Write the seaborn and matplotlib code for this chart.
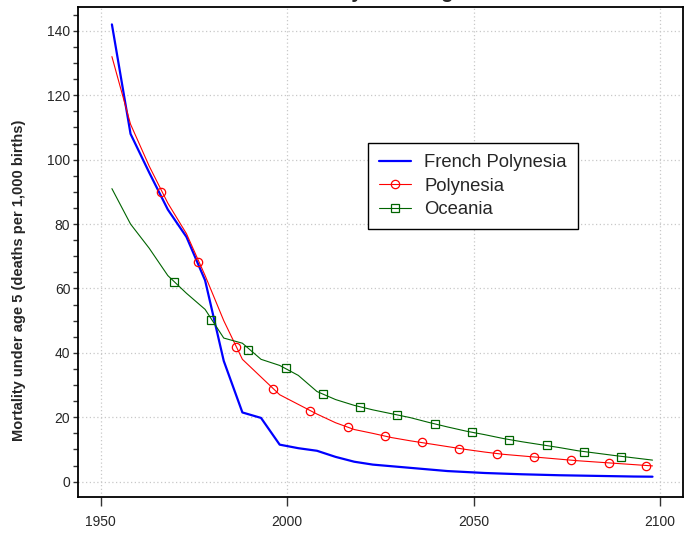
import numpy as np
import pandas as pd
import seaborn as sns
import matplotlib.pyplot as plt
from matplotlib.lines import Line2D
from matplotlib.ticker import MultipleLocator

# 5-year period midpoints
years = list(range(1953, 2099, 5))

# under-5 mortality (deaths per 1,000 births)
french_polynesia = [142, 108, 96, 84.5, 76, 62.5, 37.5, 21.5, 19.8, 11.5,
                    10.4, 9.6, 7.7, 6.2, 5.3, 4.8, 4.3, 3.8, 3.3, 3.0,
                    2.7, 2.5, 2.3, 2.15, 2.0, 1.9, 1.8, 1.7, 1.6, 1.55]
polynesia = [132, 111, 98, 86.5, 77, 64, 50, 38, 32.5, 27,
             24, 21, 18.3, 16.2, 15, 13.7, 12.7, 11.8, 10.9, 10.0,
             9.2, 8.5, 8.0, 7.5, 7.0, 6.5, 6.1, 5.7, 5.3, 4.9]
oceania = [91, 80, 72.5, 64, 58.5, 53.5, 44.6, 43, 38, 36.1,
           33.0, 28, 25.5, 23.7, 22.3, 21.1, 19.9, 18.4, 17.0, 15.7,
           14.6, 13.4, 12.4, 11.5, 10.6, 9.6, 8.85, 8.1, 7.4, 6.7]

# marker positions as drawn on the reference
polynesia_mk_years = [1966.2, 1976.2, 1986.2, 1996.2, 2006.2, 2016.2, 2026.2,
                      2036.2, 2046.2, 2056.2, 2066.2, 2076.2, 2086.2, 2096.2]
polynesia_mk = [90.0, 68.2, 41.9, 28.8, 22.1, 17.0, 14.1,
                12.2, 10.25, 8.7, 7.7, 6.6, 5.8, 4.97]
oceania_mk_years = [1969.6, 1979.6, 1989.6, 1999.6, 2009.6, 2019.6, 2029.6,
                    2039.6, 2049.6, 2059.6, 2069.6, 2079.6, 2089.6]
oceania_mk = [61.9, 50.3, 41.0, 35.4, 27.3, 23.3, 20.8,
              17.9, 15.3, 13.0, 11.3, 9.3, 7.8]

labels = ['French Polynesia', 'Polynesia', 'Oceania']
colors = ['#0000ff', '#ff0000', '#006400']

sns.set_style('white')
plt.rcParams['font.family'] = ['Liberation Sans', 'DejaVu Sans']

fig = plt.figure(figsize=(6.95, 5.35), dpi=100)
ax = fig.add_axes([0.1122, 0.0716, 0.8701, 0.9153])

# lines
sns.lineplot(x=years, y=french_polynesia, color=colors[0], linewidth=1.6, ax=ax, legend=False)
sns.lineplot(x=years, y=polynesia, color=colors[1], linewidth=0.8, ax=ax, legend=False)
sns.lineplot(x=years, y=oceania, color=colors[2], linewidth=0.8, ax=ax, legend=False)

# open markers
ax.plot(polynesia_mk_years, polynesia_mk, linestyle='none', marker='o', ms=6,
        mfc='none', mec=colors[1], mew=0.9)
ax.plot(oceania_mk_years, oceania_mk, linestyle='none', marker='s', ms=5.5,
        mfc='none', mec=colors[2], mew=0.9)

ax.set_xlim(1943.9, 2106.1)
ax.set_ylim(-4.66, 147.4)
ax.set_xticks([1950, 2000, 2050, 2100])
ax.yaxis.set_major_locator(MultipleLocator(20))
ax.yaxis.set_minor_locator(MultipleLocator(5))
ax.tick_params(axis='x', which='major', direction='out', length=6.5, width=1,
               bottom=True, labelsize=10, pad=7, color='#333333')
ax.tick_params(axis='y', which='both', direction='out', length=3.5, width=1,
               left=True, labelsize=10, pad=2, color='#333333')
ax.grid(True, which='major', linestyle=(0, (1, 2)), color='#c8c8c8', linewidth=0.9)

for sp in ax.spines.values():
    sp.set_visible(True)
    sp.set_color('black')
    sp.set_linewidth(1.3)

ax.set_title('Mortality under age 5', fontsize=14.5, fontweight='bold', pad=6.5)
ax.set_ylabel('Mortality under age 5 (deaths per 1,000 births)', fontsize=10.5, fontweight='bold')
ax.yaxis.set_label_coords(-0.0857, 0.441)

handles = [
    Line2D([], [], color=colors[0], linewidth=1.6),
    Line2D([], [], color=colors[1], linewidth=0.8, marker='o', ms=6, mfc='none', mew=0.9),
    Line2D([], [], color=colors[2], linewidth=0.8, marker='s', ms=5.5, mfc='none', mew=0.9),
]
leg = ax.legend(handles, labels, loc='upper left', bbox_to_anchor=(0.480, 0.722),
                borderaxespad=0, fontsize=13.3, frameon=True, fancybox=False,
                framealpha=1, edgecolor='black', handlelength=1.7,
                handletextpad=0.73, labelspacing=0.35, borderpad=0.6)
leg.get_frame().set_linewidth(1.0)

fig.savefig('out.png', dpi=100)
